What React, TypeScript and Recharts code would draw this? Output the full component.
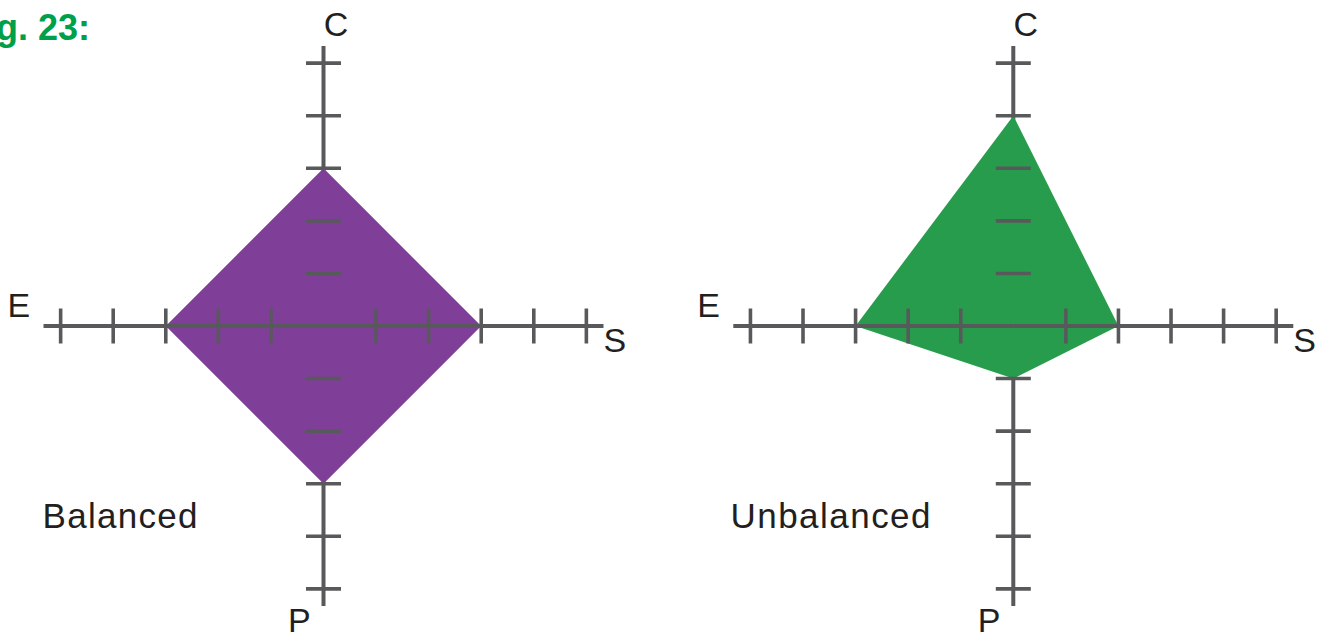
import {
  RadarChart,
  Radar,
  PolarGrid,
  PolarAngleAxis,
  PolarRadiusAxis,
} from 'recharts';

const axisLabels = ['C', 'S', 'P', 'E'];
const balancedValues = [3, 3, 3, 3];
const unbalancedValues = [4, 2, 1, 3];
const tickValues = [1, 2, 3, 4, 5];

const GRAY = '#58595b';
const TEXT = '#231f20';
const FONT = '"Liberation Sans", Arial, Helvetica, sans-serif';

// axis line runs a bit past the last tick
const R_OUTER = 280;
const R_MAX = 5.326;
const TICK_HALF = 17.5;

// the axis line is drawn between the first and last tick, so the ends are
// passed as ticks too and just not drawn
const axisTicks = [0, ...tickValues, R_MAX];

// label offsets from the chart centre (baseline positions)
const labelPos: Record<string, { dx: number; dy: number; anchor: 'start' | 'middle' | 'end' }> = {
  C: { dx: 12.5, dy: -290, anchor: 'middle' },
  S: { dx: 280, dy: 26, anchor: 'start' },
  P: { dx: -35.5, dy: 306, anchor: 'start' },
  E: { dx: -316, dy: -9.5, anchor: 'start' },
};

const radiusAxes = [
  { id: 'c', angle: 90, vertical: true },
  { id: 's', angle: 0, vertical: false },
  { id: 'p', angle: 270, vertical: true },
  { id: 'e', angle: 180, vertical: false },
];

interface DiagramProps {
  values: number[];
  fill: string;
  cx: number;
  cy: number;
  left: number;
}

function Diagram({ values, fill, cx, cy, left }: DiagramProps) {
  const data = axisLabels.map((axis, i) => ({ axis, value: values[i] }));

  const renderLabel = (props: any) => {
    const key = String(props.payload?.value);
    const p = labelPos[key];
    if (!p) return null;
    return (
      <text
        x={cx + p.dx}
        y={cy + p.dy}
        textAnchor={p.anchor}
        fontFamily={FONT}
        fontSize={34}
        fill={TEXT}
      >
        {key}
      </text>
    );
  };

  const makeTick = (vertical: boolean) => (props: any) => {
    const { x, y, payload } = props;
    if (!tickValues.includes(payload?.value)) return <g />;
    if (vertical) {
      return (
        <line x1={x - TICK_HALF} x2={x + TICK_HALF} y1={y} y2={y} stroke={GRAY} strokeWidth={3.6} />
      );
    }
    return (
      <line x1={x} x2={x} y1={y - TICK_HALF} y2={y + TICK_HALF} stroke={GRAY} strokeWidth={3.6} />
    );
  };

  return (
    <div style={{ position: 'absolute', left, top: 0 }}>
      <RadarChart
        width={666}
        height={637}
        data={data}
        cx={cx}
        cy={cy}
        outerRadius={R_OUTER}
        startAngle={90}
        endAngle={-270}
        margin={{ top: 0, right: 0, bottom: 0, left: 0 }}
      >
        <PolarGrid
          radiusAxisId="c"
          gridType="polygon"
          polarAngles={[90, 270]}
          polarRadius={[0]}
          stroke={GRAY}
          strokeWidth={4}
        />
        <Radar
          radiusAxisId="c"
          dataKey="value"
          fill={fill}
          fillOpacity={1}
          stroke="none"
          isAnimationActive={false}
        />
        {/* the other radius axes only draw when a series is bound to them */}
        {radiusAxes.slice(1).map((a) => (
          <Radar
            key={'r' + a.id}
            radiusAxisId={a.id}
            dataKey="value"
            fill="none"
            fillOpacity={0}
            stroke="none"
            isAnimationActive={false}
          />
        ))}
        <PolarAngleAxis dataKey="axis" axisLine={false} tickLine={false} tick={renderLabel} />
        {radiusAxes.map((a) => (
          <PolarRadiusAxis
            key={a.id}
            radiusAxisId={a.id}
            angle={a.angle}
            type="number"
            domain={[0, R_MAX]}
            ticks={axisTicks as any}
            tickCount={7}
            axisLine={a.vertical ? false : { stroke: GRAY, strokeWidth: 4 }}
            tickLine={false}
            tick={makeTick(a.vertical)}
          />
        ))}
      </RadarChart>
    </div>
  );
}

export default function App() {
  return (
    <div
      style={{
        position: 'absolute',
        left: 0,
        top: 0,
        width: 1332,
        height: 637,
        overflow: 'hidden',
        background: '#fff',
      }}
    >
      <Diagram values={balancedValues} fill="#7f3f98" cx={323.5} cy={326} left={0} />
      <Diagram values={unbalancedValues} fill="#289c4d" cx={347.3} cy={326} left={666} />
      <svg
        width={1332}
        height={637}
        style={{ position: 'absolute', left: 0, top: 0, pointerEvents: 'none' }}
      >
        <text x={90} y={40} textAnchor="end" fontFamily={FONT} fontWeight="bold" fontSize={36} fill="#00a04b">
          Fig. 23:
        </text>
        <text x={42.5} y={528.3} fontFamily={FONT} fontSize={35} fill={TEXT} textLength={155} lengthAdjust="spacing">
          Balanced
        </text>
        <text x={730.5} y={528.3} fontFamily={FONT} fontSize={35} fill={TEXT} textLength={200} lengthAdjust="spacing">
          Unbalanced
        </text>
      </svg>
    </div>
  );
}
